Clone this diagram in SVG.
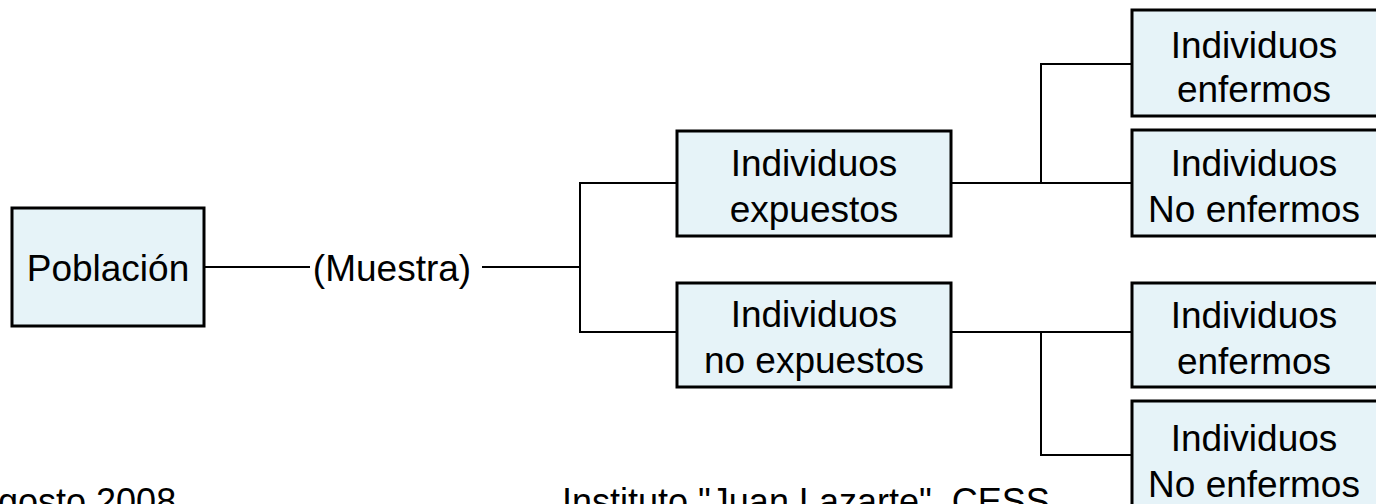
<svg xmlns="http://www.w3.org/2000/svg" width="1376" height="504" viewBox="0 0 1376 504">
<style>
.box{fill:#e6f3f8;stroke:#000;stroke-width:3}
.t{font-family:"Liberation Sans",Arial,sans-serif;font-size:37px;fill:#000;text-anchor:middle}
.c{fill:none;stroke:#000;stroke-width:2}
</style>
<rect width="1376" height="504" fill="#fff"/>
<g id="connectors">
<line class="c" x1="204" y1="267" x2="310" y2="267"/>
<line class="c" x1="482" y1="267" x2="580" y2="267"/>
<polyline class="c" points="677,183 580,183 580,332 677,332"/>
<line class="c" x1="951" y1="183" x2="1131" y2="183"/>
<polyline class="c" points="1131,64 1041,64 1041,183"/>
<line class="c" x1="951" y1="332" x2="1131" y2="332"/>
<polyline class="c" points="1041,332 1041,455 1131,455"/>
</g>
<g id="poblacion">
<rect class="box" x="12" y="208" width="192" height="118"/>
<text class="t" x="108" y="281">Población</text>
</g>
<g id="muestra">
<text class="t" x="392" y="281">(Muestra)</text>
</g>
<g id="expuestos">
<rect class="box" x="677" y="131" width="274" height="105"/>
<text class="t" x="814" y="176">Individuos</text>
<text class="t" x="814" y="222">expuestos</text>
</g>
<g id="no-expuestos">
<rect class="box" x="677" y="283" width="274" height="104"/>
<text class="t" x="814" y="327">Individuos</text>
<text class="t" x="814" y="373">no expuestos</text>
</g>
<g id="enfermos1">
<rect class="box" x="1132" y="10" width="250" height="106"/>
<text class="t" x="1254" y="58">Individuos</text>
<text class="t" x="1254" y="102">enfermos</text>
</g>
<g id="noenfermos1">
<rect class="box" x="1132" y="130" width="250" height="106"/>
<text class="t" x="1254" y="176">Individuos</text>
<text class="t" x="1254" y="222">No enfermos</text>
</g>
<g id="enfermos2">
<rect class="box" x="1132" y="283" width="250" height="104"/>
<text class="t" x="1254" y="328">Individuos</text>
<text class="t" x="1254" y="374">enfermos</text>
</g>
<g id="noenfermos2">
<rect class="box" x="1132" y="401" width="250" height="110"/>
<text class="t" x="1254" y="451">Individuos</text>
<text class="t" x="1254" y="497">No enfermos</text>
</g>
<g id="footer">
<text class="t" x="-2" y="514" style="text-anchor:start;font-size:36px">gosto 2008</text>
<text class="t" x="562" y="514" style="text-anchor:start;font-size:36px">Instituto "Juan Lazarte", CESS</text>
</g>
</svg>
